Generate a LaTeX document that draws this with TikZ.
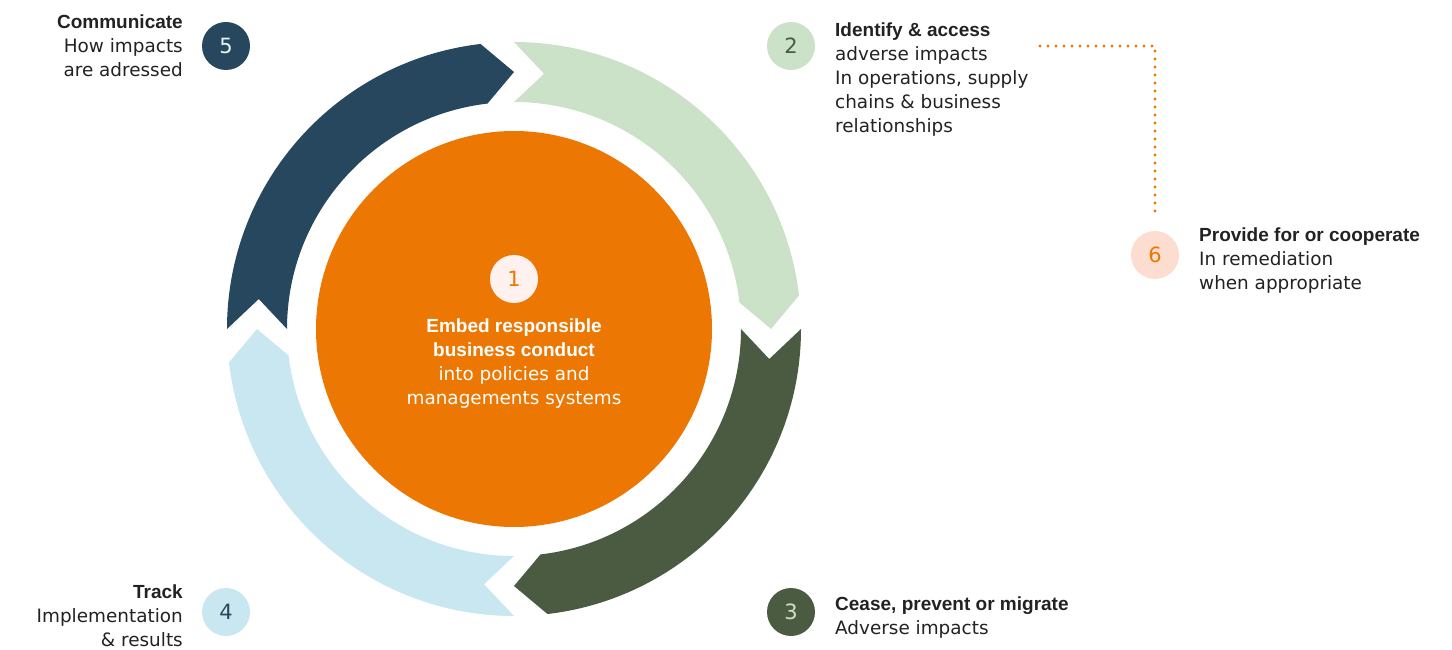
\documentclass[tikz,border=0pt]{standalone}
\usepackage{fontspec}
\setmainfont{DejaVu Sans}[BoldFont={Liberation Sans Bold},BoldFeatures={Scale=1.033}]
\usepackage{xcolor}
\usepackage{tikz}
\usetikzlibrary{positioning}

\definecolor{navy}{HTML}{27475E}
\definecolor{lightgreen}{HTML}{CCE2C8}
\definecolor{darkgreen}{HTML}{4A5B42}
\definecolor{lightblue}{HTML}{C9E7F1}
\definecolor{brandorange}{HTML}{EC7703}
\definecolor{peach}{HTML}{FDDDD0}
\definecolor{softwhite}{HTML}{FFF2EE}
\definecolor{ink}{HTML}{222222}

\tikzstyle{numdot} = [circle, minimum size=48pt, inner sep=0pt, font=\fontsize{21}{24}\selectfont]
\tikzstyle{bodytext} = [inner sep=0pt, text=ink, font=\fontsize{18.4}{24}\selectfont]

% one chevron piece of the ring: colour, start angle, end angle (clockwise)
\newcommand{\ringseg}[3]{%
  \fill[#1] (#2:287pt) arc[start angle=#2, end angle=#3+6.7, radius=287pt]
    -- (#3:257pt) -- (#3+6.7:227pt) arc[start angle=#3+6.7, end angle=#2, radius=227pt]
    -- (#2-6.7:257pt) -- cycle;}

\begin{document}
\begin{tikzpicture}[x=1pt, y=1pt]
        \useasboundingbox (0,0) rectangle (1452,649);

        % Draw ring of arrows
        \begin{scope}[shift={(514,320)}]
            \ringseg{navy}{180}{90}
            \ringseg{lightgreen}{90}{0}
            \ringseg{darkgreen}{0}{-90}
            \ringseg{lightblue}{-90}{-180}
        \end{scope}

        % Centre disc
        \node[circle, fill=brandorange, minimum size=396pt, inner sep=0pt] (core) at (514,320) {};
        \node[numdot, fill=softwhite, text=brandorange] (n1) at (514,370) {1};
        \node[bodytext, text=white, align=center, anchor=north] (t1) at (514,330)
            {\textbf{Embed responsible}\\\textbf{business conduct}\\into policies and\\managements systems};

        % Step markers
        \node[numdot, fill=lightgreen, text=darkgreen] (n2) at (791,603) {2};
        \node[numdot, fill=darkgreen, text=lightgreen] (n3) at (791,37) {3};
        \node[numdot, fill=lightblue, text=navy] (n4) at (226,37) {4};
        \node[numdot, fill=navy, text=lightblue!40] (n5) at (226,603) {5};
        \node[numdot, fill=peach, text=brandorange] (n6) at (1155,394) {6};

        % Labels
        \node[bodytext, align=left, anchor=north west] (t2) at (835,626)
            {\textbf{Identify \& access}\\adverse impacts\\In operations, supply\\chains \& business\\relationships};
        \node[bodytext, align=left, anchor=north west] (t3) at (835,52)
            {\textbf{Cease, prevent or migrate}\\Adverse impacts};
        \node[bodytext, align=right, anchor=north east] (t4) at (183,64)
            {\textbf{Track}\\Implementation\\\& results};
        \node[bodytext, align=right, anchor=north east] (t5) at (183,634)
            {\textbf{Communicate}\\How impacts\\are adressed};
        \node[bodytext, align=left, anchor=north west] (t6) at (1199,421)
            {\textbf{Provide for or cooperate}\\In remediation\\when appropriate};

        % Remediation link
        \coordinate (linkstart) at (1040,603);
        \draw[brandorange, line width=3.2pt, line cap=round, dash pattern=on 0pt off 8pt, shorten >=19pt]
            (linkstart) -| (n6);
    \end{tikzpicture}
\end{document}
